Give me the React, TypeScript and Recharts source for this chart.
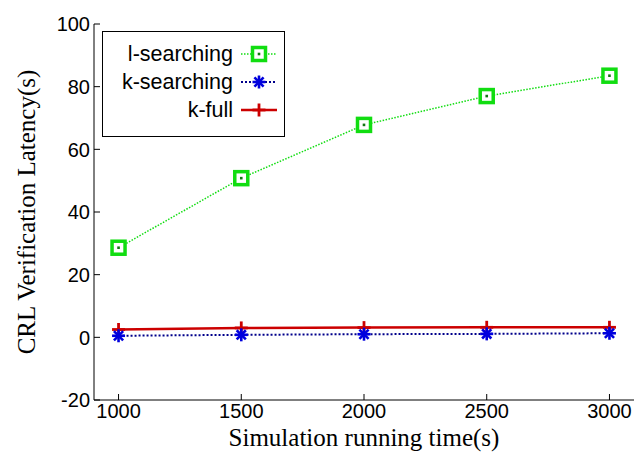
import React from "react";
import {
  LineChart,
  Line,
  XAxis,
  YAxis,
} from "recharts";

// simulation running time (s)
const times = [1000, 1500, 2000, 2500, 3000];
// CRL verification latency (s)
const lSearching = [28.6, 50.8, 67.8, 77.0, 83.5];
const kSearching = [0.5, 0.8, 1.0, 1.1, 1.3];
const kFull = [2.5, 3.0, 3.1, 3.2, 3.2];

const xTicks = [1000, 1500, 2000, 2500, 3000];
const yTicks = [-20, 0, 20, 40, 60, 80, 100];

const GREEN = "#11dd11";
const BLUE = "#0000dd";
const NAVY = "#00008b";
const RED = "#cc0000";

const data = times.map((t, i) => ({
  t,
  l: lSearching[i],
  k: kSearching[i],
  f: kFull[i],
}));

type DotProps = { cx?: number; cy?: number };

const SquareDot = ({ cx, cy }: DotProps) => {
  if (cx == null || cy == null) return null;
  return (
    <g>
      <rect x={cx - 6.5} y={cy - 6.5} width={13} height={13} fill="#fff" stroke={GREEN} strokeWidth={3.5} />
      <rect x={cx - 1.3} y={cy - 1.3} width={2.6} height={2.6} fill="#117711" />
    </g>
  );
};

const StarDot = ({ cx, cy }: DotProps) => {
  if (cx == null || cy == null) return null;
  const r = 6.5;
  const d = 4.6;
  return (
    <g stroke={BLUE} strokeWidth={2.6}>
      <line x1={cx - r} y1={cy} x2={cx + r} y2={cy} />
      <line x1={cx} y1={cy - r} x2={cx} y2={cy + r} />
      <line x1={cx - d} y1={cy - d} x2={cx + d} y2={cy + d} />
      <line x1={cx - d} y1={cy + d} x2={cx + d} y2={cy - d} />
    </g>
  );
};

const PlusDot = ({ cx, cy }: DotProps) => {
  if (cx == null || cy == null) return null;
  const r = 6.5;
  return (
    <g stroke={RED} strokeWidth={2.8}>
      <line x1={cx - r} y1={cy} x2={cx + r} y2={cy} />
      <line x1={cx} y1={cy - r} x2={cx} y2={cy + r} />
    </g>
  );
};

const legendItems = [
  { label: "l-searching", color: GREEN, dash: "1.5 1.5", width: 1.5, Dot: SquareDot },
  { label: "k-searching", color: NAVY, dash: "2 2", width: 2, Dot: StarDot },
  { label: "k-full", color: RED, dash: undefined, width: 2.5, Dot: PlusDot },
];

const SANS = "Liberation Sans, Arial, sans-serif";
const titleFont = { fontFamily: "Liberation Serif, Times New Roman, serif", fontSize: 25, fill: "#000" };
const TICK_LEN = 6;
const GAP = 4; // tickSize + tickMargin of the labelled axes

type TickProps = { x?: number; y?: number; payload?: { value: number } };

// label below + inward tick above the bottom axis
const BottomTick = ({ x = 0, y = 0, payload }: TickProps) => (
  <g>
    <line x1={x} y1={y - GAP} x2={x} y2={y - GAP - TICK_LEN} stroke="#000" />
    <text x={x} y={y} dy="0.72em" textAnchor="middle" fontFamily={SANS} fontSize={20} fill="#000">
      {payload?.value}
    </text>
  </g>
);

const LeftTick = ({ x = 0, y = 0, payload }: TickProps) => (
  <g>
    <line x1={x + GAP} y1={y} x2={x + GAP + TICK_LEN} y2={y} stroke="#000" />
    <text x={x} y={y} dy="0.36em" textAnchor="end" fontFamily={SANS} fontSize={20} fill="#000">
      {payload?.value}
    </text>
  </g>
);

const TopTick = ({ x = 0, y = 0 }: TickProps) => (
  <line x1={x} y1={y} x2={x} y2={y + TICK_LEN} stroke="#000" />
);

const RightTick = ({ x = 0, y = 0 }: TickProps) => (
  <line x1={x} y1={y} x2={x - TICK_LEN} y2={y} stroke="#000" />
);

export default function App() {
  return (
    <div style={{ position: "absolute", left: 0, top: 0, width: 637, height: 453, background: "#fff" }}>
      <LineChart
        width={637}
        height={453}
        data={data}
        margin={{ top: 24, right: 3, left: 0, bottom: 0 }}
      >
        <XAxis
          xAxisId="b"
          dataKey="t"
          type="number"
          domain={[900, 3100]}
          ticks={xTicks}
          interval={0}
          height={53}
          tickLine={false}
          tickSize={2}
          tickMargin={2}
          axisLine={{ stroke: "#000" }}
          tick={<BottomTick />}
          label={{ value: "Simulation running time(s)", position: "insideBottom", offset: 7, style: titleFont }}
        />
        <XAxis
          xAxisId="top"
          dataKey="t"
          type="number"
          domain={[900, 3100]}
          ticks={xTicks}
          interval={0}
          orientation="top"
          mirror
          height={0}
          tickSize={0}
          tickMargin={0}
          tickLine={false}
          tick={<TopTick />}
          axisLine={{ stroke: "#000" }}
        />
        <YAxis
          yAxisId="l"
          type="number"
          domain={[-20, 100]}
          ticks={yTicks}
          interval={0}
          width={94}
          tickLine={false}
          tickSize={2}
          tickMargin={2}
          axisLine={{ stroke: "#000" }}
          tick={<LeftTick />}
          label={{
            value: "CRL Verification Latency(s)",
            angle: -90,
            position: "insideLeft",
            offset: 26,
            textAnchor: "middle",
            style: { ...titleFont, textAnchor: "middle" },
          }}
        />
        <YAxis
          yAxisId="r"
          type="number"
          domain={[-20, 100]}
          ticks={yTicks}
          interval={0}
          orientation="right"
          mirror
          width={0}
          tickSize={0}
          tickMargin={0}
          tickLine={false}
          tick={<RightTick />}
          axisLine={{ stroke: "#000" }}
        />
        <Line
          xAxisId="b"
          yAxisId="l"
          dataKey="f"
          stroke={RED}
          strokeWidth={2.5}
          dot={<PlusDot />}
          activeDot={false}
          isAnimationActive={false}
        />
        <Line
          xAxisId="b"
          yAxisId="l"
          dataKey="k"
          stroke={NAVY}
          strokeWidth={2}
          strokeDasharray="2 2"
          dot={<StarDot />}
          activeDot={false}
          isAnimationActive={false}
        />
        <Line
          xAxisId="b"
          yAxisId="l"
          dataKey="l"
          stroke={GREEN}
          strokeWidth={1.5}
          strokeDasharray="1.5 1.5"
          dot={<SquareDot />}
          activeDot={false}
          isAnimationActive={false}
        />
      </LineChart>
      <div
        style={{
          position: "absolute",
          left: 102,
          top: 31,
          width: 183,
          height: 106,
          boxSizing: "border-box",
          border: "1px solid #000",
          background: "#fff",
        }}
      >
        {legendItems.map((it, i) => (
          <div
            key={it.label}
            style={{
              position: "absolute",
              left: 0,
              top: 8 + i * 28,
              height: 28,
              width: 181,
              display: "flex",
              alignItems: "center",
            }}
          >
            <span
              style={{
                width: 133,
                textAlign: "right",
                fontFamily: SANS,
                fontSize: 21.5,
                lineHeight: "28px",
              }}
            >
              {it.label}
            </span>
            <svg width={46} height={28} style={{ marginLeft: 6 }}>
              <line x1={2} y1={14} x2={38} y2={14} stroke={it.color} strokeWidth={it.width} strokeDasharray={it.dash} />
              <it.Dot cx={20} cy={14} />
            </svg>
          </div>
        ))}
      </div>
    </div>
  );
}
